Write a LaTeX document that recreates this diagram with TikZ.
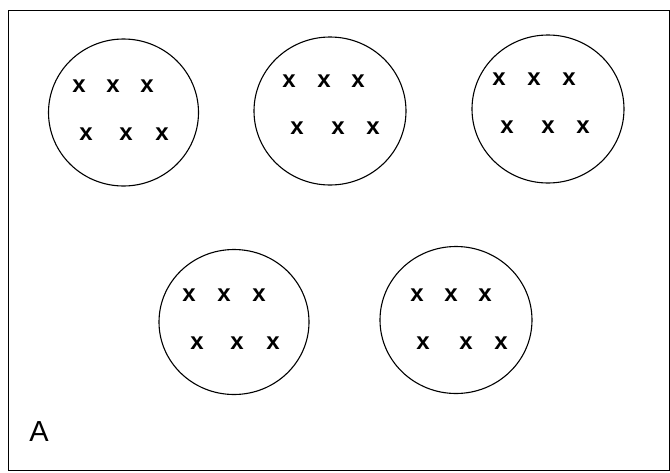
\documentclass[tikz,border=0pt]{standalone}
\usepackage{fontspec}
\setmainfont{Liberation Sans}
\usetikzlibrary{shapes.geometric}
\begin{document}
\begin{tikzpicture}[x=1pt,y=-1pt,
  grp/.style={ellipse,draw,line width=1.1pt,inner sep=0pt},
  mk/.style={font=\fontsize{24}{24}\selectfont\bfseries,inner sep=0pt}]
\useasboundingbox (0,0) rectangle (670,472);
\node[draw,line width=1.3pt,minimum width=661pt,minimum height=460pt,anchor=north west,inner sep=0pt] (frame) at (8,10) {};
% groups
\node[grp,minimum width=150pt,minimum height=147pt] (g1) at (123.5,112.5) {};
\node[grp,minimum width=152pt,minimum height=148pt] (g2) at (330,111) {};
\node[grp,minimum width=152pt,minimum height=148pt] (g3) at (548,109) {};
\node[grp,minimum width=150pt,minimum height=145pt] (g4) at (234,322) {};
\node[grp,minimum width=152pt,minimum height=147pt] (g5) at (456,320) {};
% marks group 1
\node[mk] (m11) at (79,86) {x};
\node[mk] (m12) at (113,86) {x};
\node[mk] (m13) at (147,86) {x};
\node[mk] (m14) at (86,134) {x};
\node[mk] (m15) at (126,134) {x};
\node[mk] (m16) at (162,134) {x};
% group 2
\node[mk] (m21) at (289,81) {x};
\node[mk] (m22) at (324,81) {x};
\node[mk] (m23) at (358,81) {x};
\node[mk] (m24) at (297,128) {x};
\node[mk] (m25) at (338,128) {x};
\node[mk] (m26) at (373,128) {x};
% group 3
\node[mk] (m31) at (499,79) {x};
\node[mk] (m32) at (534,79) {x};
\node[mk] (m33) at (569,79) {x};
\node[mk] (m34) at (507,127) {x};
\node[mk] (m35) at (548,127) {x};
\node[mk] (m36) at (583,127) {x};
% group 4
\node[mk] (m41) at (189,295) {x};
\node[mk] (m42) at (224,295) {x};
\node[mk] (m43) at (259,295) {x};
\node[mk] (m44) at (197,343) {x};
\node[mk] (m45) at (237,343) {x};
\node[mk] (m46) at (273,343) {x};
% group 5
\node[mk] (m51) at (417,295) {x};
\node[mk] (m52) at (451,295) {x};
\node[mk] (m53) at (485,295) {x};
\node[mk] (m54) at (423,343) {x};
\node[mk] (m55) at (466,343) {x};
\node[mk] (m56) at (501,343) {x};
% label
\node[inner sep=0pt,font=\fontsize{29}{29}\selectfont] (lab) at (39,432) {A};
\end{tikzpicture}
\end{document}
